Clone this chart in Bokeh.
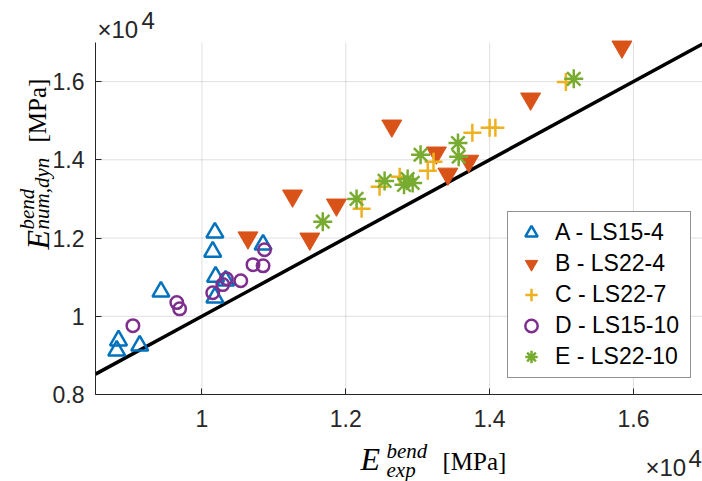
from math import pi
from bokeh.plotting import figure
from bokeh.models import (Range1d, FixedTicker, Label, Legend, LegendItem, LinearAxis)
from bokeh.embed import file_html
from bokeh.resources import INLINE

# ---- data (MPa) ----
a_x = [8815, 8840, 9135, 9430, 10180, 10150, 10190, 10180, 10330, 10850]
a_y = [9120, 9380, 9250, 10630, 12140, 11650, 11010, 10480, 10910, 11830]
b_x = [10640, 11260, 11500, 11870, 12640, 13260, 13420, 13710, 14570, 15840]
b_y = [12010, 13080, 11980, 12850, 14870, 14180, 13640, 13970, 15560, 16890]
c_x = [12220, 12470, 12750, 13140, 13220, 13760, 14000, 14080, 15060]
c_y = [12750, 13310, 13570, 13720, 13950, 14690, 14820, 14820, 15990]
d_x = [9040, 9650, 9690, 10150, 10290, 10340, 10540, 10710, 10850, 10870]
d_y = [9760, 10350, 10190, 10600, 10810, 10960, 10910, 11320, 11290, 11700]
e_x = [11680, 12150, 12540, 12810, 12860, 12930, 13040, 13560, 13570, 15170]
e_y = [12420, 13000, 13460, 13360, 13510, 13410, 14130, 14430, 14080, 16070]

series_labels = ["A - LS15-4", "B - LS22-4", "C - LS22-7", "D - LS15-10", "E - LS22-10"]

x_ticks = [10000, 12000, 14000, 16000]
x_tick_labels = ["1", "1.2", "1.4", "1.6"]
y_ticks = [8000, 10000, 12000, 14000, 16000]
y_tick_labels = ["0.8", "1", "1.2", "1.4", "1.6"]

# axis limits of the plotting box
x_lo, x_hi = 8520, 16960
y_lo, y_hi = 8000, 17000

# ---- layout (pixels) ----
W, H = 702, 481
BOX_L, BOX_T, BOX_R, BOX_B = 95, 42, 702, 394   # plotting box on the canvas
sx_per = (BOX_R - BOX_L) / (x_hi - x_lo)
sy_per = (BOX_B - BOX_T) / (y_hi - y_lo)
x_start = x_lo - BOX_L / sx_per
x_end = x_hi + (W - BOX_R) / sx_per
y_start = y_lo - (H - BOX_B) / sy_per
y_end = y_hi + BOX_T / sy_per

SANS = "Liberation Sans"
SERIF = "Liberation Serif"
DARK = "#262626"
FS = "23px"

p = figure(width=W, height=H, x_range=Range1d(x_start, x_end),
           y_range=Range1d(y_start, y_end), x_axis_type=None, y_axis_type=None,
           output_backend="svg", toolbar_location=None, min_border=0)
p.outline_line_color = None
p.background_fill_color = "white"
p.border_fill_color = "white"

# grid
p.segment(x0=x_ticks, y0=[y_lo] * len(x_ticks), x1=x_ticks, y1=[y_hi] * len(x_ticks),
          line_color=DARK, line_alpha=0.15, line_width=1)
p.segment(x0=[x_lo] * len(y_ticks), y0=y_ticks, x1=[x_hi] * len(y_ticks), y1=y_ticks,
          line_color=DARK, line_alpha=0.15, line_width=1)

# axes drawn at the box edges
xaxis = LinearAxis(fixed_location=y_lo, bounds=(x_lo, x_hi),
                   ticker=FixedTicker(ticks=x_ticks),
                   major_label_overrides={t: l for t, l in zip(x_ticks, x_tick_labels)})
yaxis = LinearAxis(fixed_location=x_lo, bounds=(y_lo, y_hi),
                   ticker=FixedTicker(ticks=y_ticks),
                   major_label_overrides={t: l for t, l in zip(y_ticks, y_tick_labels)})
for ax in (xaxis, yaxis):
    ax.axis_line_color = DARK
    ax.axis_line_width = 1
    ax.major_tick_in = 6
    ax.major_tick_out = 0
    ax.major_tick_line_color = DARK
    ax.minor_tick_line_color = None
    ax.major_label_text_font = SANS
    ax.major_label_text_font_size = FS
    ax.major_label_text_color = DARK
xaxis.major_label_standoff = 15
yaxis.major_label_standoff = 11
p.add_layout(xaxis, "below")
p.add_layout(yaxis, "left")

# identity line y = x across the box
lo, hi = max(x_lo, y_lo), min(x_hi, y_hi)
p.line([lo, hi], [lo, hi], line_color="black", line_width=3.5)

ra = p.scatter(a_x, a_y, marker="triangle", size=17, line_color="#0072BD",
               line_width=2.5, fill_color=None)
rb = p.scatter(b_x, b_y, marker="inverted_triangle", size=20, line_color="#D95319",
               fill_color="#D95319", line_width=1)
rc = p.scatter(c_x, c_y, marker="cross", size=18, line_color="#EDB120", line_width=2.5)
rd = p.scatter(d_x, d_y, marker="circle", size=12.5, line_color="#7E2F8E",
               line_width=2.5, fill_color=None)
re_ = p.scatter(e_x, e_y, marker="asterisk", size=19, line_color="#77AC30", line_width=2.5)

legend = Legend(items=[LegendItem(label=l, renderers=[r]) for l, r in
                       zip(series_labels, [ra, rb, rc, rd, re_])],
                location=(507, 103), orientation="vertical",
                glyph_width=36, glyph_height=31, label_height=31, spacing=0,
                padding=5, label_standoff=6, label_width=130, margin=0,
                border_line_color=DARK, border_line_width=1,
                background_fill_color="white", background_fill_alpha=1,
                label_text_font=SANS, label_text_font_size=FS,
                label_text_color="black")
p.add_layout(legend)


def add_text(text, px, py, font, size, style="normal", angle=0.0, color="black"):
    """px, py: canvas pixels from the top-left corner."""
    p.add_layout(Label(x=px, y=H - py, x_units="screen", y_units="screen", text=text,
                       text_font=font, text_font_size=size, text_font_style=style,
                       angle=angle, text_color=color, text_baseline="alphabetic",
                       text_align="left"))


# x axis label: E^{bend}_{exp} [MPa]
add_text("E", 360, 458, SERIF, "32px", "italic")
add_text("bend", 386, 450, SERIF, "21px", "italic")
add_text("exp", 386, 469, SERIF, "21px", "italic")
add_text("[MPa]", 442, 461, SERIF, "25px")

# y axis label: E^{bend}_{num,dyn} [MPa] (rotated)
add_text("E", 37, 249, SERIF, "32px", "italic", pi / 2)
add_text("bend", 26, 229, SERIF, "21px", "italic", pi / 2)
add_text("num,dyn", 41, 229, SERIF, "21px", "italic", pi / 2)
add_text("[MPa]", 37, 142, SERIF, "25px", "normal", pi / 2)

# exponent multipliers
add_text("\u00d710", 97, 29, SANS, "24px", color=DARK)
add_text("4", 141, 20, SANS, "24px", color=DARK)
add_text("\u00d710", 645, 467, SANS, "24px", color=DARK)
add_text("4", 688, 458, SANS, "24px", color=DARK)

open("out.html", "w").write(file_html(p, INLINE))
